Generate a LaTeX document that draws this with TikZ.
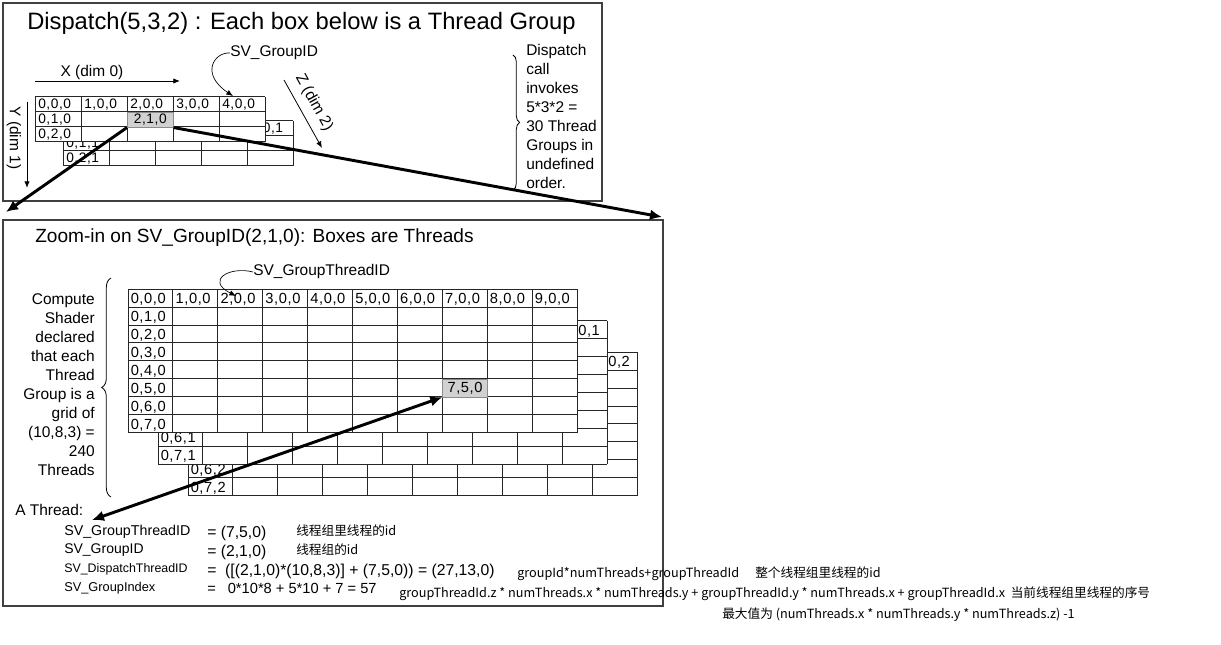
\documentclass[tikz,border=0pt]{standalone}
\usepackage{fontspec}
\setmainfont{Liberation Sans}
\newfontfamily\cjk{Noto Sans CJK SC}
\newfontfamily\cellfont[LetterSpace=4]{Liberation Sans}
\usetikzlibrary{arrows.meta, positioning, decorations.pathreplacing}

\tikzset{
  panel/.style={draw=black!75, line width=0.8pt},
  cellline/.style={draw=black!85, line width=0.75pt},
  txt/.style={inner sep=0pt, font=\fontsize{11.6}{14.25}\selectfont},
  cellS/.style={inner sep=0pt, anchor=base west, font=\fontsize{10.3}{12}\cellfont},
  cellL/.style={inner sep=0pt, anchor=base west, font=\fontsize{11}{14}\cellfont},
  graycell/.style={draw=black!45, fill=black!18, inner sep=0pt, anchor=north west},
  dimarrow/.style={-{Latex[length=5pt, width=4pt]}, line width=0.6pt},
  bigarrow/.style={line width=2.2pt, -{Latex[length=9pt, width=8pt]}},
  bothway/.style={line width=2.2pt, {Latex[length=9pt, width=8pt]}-{Latex[length=9pt, width=8pt]}},
  callout/.style={-{Latex[length=5pt, width=4pt]}, line width=0.5pt},
  curly/.style={decorate, decoration={brace, amplitude=#1}, line width=0.6pt},
  svname/.style={inner sep=0pt, anchor=base west},
  eqtxt/.style={inner sep=0pt, anchor=base west, font=\fontsize{11.8}{14}\selectfont},
  cjktxt/.style={inner sep=0pt, anchor=base west, font=\fontsize{9.5}{12}\cjk},
}

\begin{document}
\begin{tikzpicture}[x=0.75pt, y=-0.75pt]
\useasboundingbox (0,0) rectangle (1221,645);

% top panel: the dispatch
\draw[panel] (3,3) rectangle (602,201);
\node[txt, anchor=base west, font=\fontsize{17.8}{20}\selectfont] (dispTitle) at (27,30) {Dispatch(5,3,2) : Each box below is a Thread Group};

% axes
\coordinate (xFrom) at (35,81);
\coordinate (xTo) at (180,81);
\draw[dimarrow] (xFrom) -- (xTo);
\node[txt, anchor=base] (xLbl) at (92,77) {X (dim 0)};
\coordinate (yFrom) at (27,102);
\coordinate (yTo) at (27,188);
\draw[dimarrow] (yFrom) -- (yTo);
\node[txt, rotate=-90] (yLbl) at (14,138) {Y (dim 1)};
\coordinate (zFrom) at (284,80);
\coordinate (zTo) at (322,148);
\draw[dimarrow] (zFrom) -- (zTo);
\node[txt, rotate=-61] (zLbl) at (314,103) {Z (dim 2)};

% thread groups, back layer first
\foreach \z/\ox/\oy in {1/63/121, 0/35/97} {
  \fill[white] (\ox,\oy) rectangle ++(230,45);
  \foreach \c in {0,...,5} \draw[cellline] (\ox+46*\c,\oy) -- ++(0,45);
  \foreach \r in {0,...,3} \draw[cellline] (\ox,\oy+15*\r) -- ++(230,0);
  \foreach \c in {0,...,4} \node[cellS] at (\ox+46*\c+3,\oy+11.3) {\c,0,\z};
  \foreach \r in {1,2} \node[cellS] at (\ox+3,\oy+15*\r+11.3) {0,\r,\z};
}
\node[graycell, minimum width=34.5pt, minimum height=11.25pt, font=\fontsize{10.3}{12}\cellfont] (g210) at (127,112) {2,1,0};

\node[txt, anchor=west] (gidLbl) at (230,53) {SV\_GroupID};
\draw[callout] (gidLbl.west) .. controls (214,52) and (200,74) .. (233,96);

\draw[curly=5pt] (513,55) -- (513,190);
\node[txt, anchor=north west, align=left] (dispNote) at (526,44) {Dispatch\\call\\invokes\\5*3*2 =\\30 Thread\\Groups in\\undefined\\order.};

% lower panel: one thread group
\draw[panel] (3,220) rectangle (663,606);
\node[txt, anchor=base west, font=\fontsize{14.3}{17}\selectfont] (zoomTitle) at (35,243) {Zoom-in on SV\_GroupID(2,1,0): Boxes are Threads};

\foreach \z/\ox/\oy in {2/188/352.3, 1/158/320.8, 0/128/289.3} {
  \fill[white] (\ox,\oy) rectangle ++(449,143.2);
  \foreach \c in {0,...,10} \draw[cellline] (\ox+44.9*\c,\oy) -- ++(0,143.2);
  \foreach \r in {0,...,8} \draw[cellline] (\ox,\oy+17.9*\r) -- ++(449,0);
  \foreach \c in {0,...,9} \node[cellL] at (\ox+44.9*\c+2.5,\oy+14.5) {\c,0,\z};
  \foreach \r in {1,...,7} \node[cellL] at (\ox+2.5,\oy+17.9*\r+14.5) {0,\r,\z};
}
\node[graycell, minimum width=33.7pt, minimum height=13.4pt, font=\fontsize{11}{14}\cellfont] (g750) at (442.3,378.8) {7,5,0};

\node[txt, anchor=west] (gtidLbl) at (253,272) {SV\_GroupThreadID};
\draw[callout] (gtidLbl.west) .. controls (230,266) and (205,280) .. (236,296);

\draw[curly=7pt] (111,497) -- (111,278);
\node[txt, anchor=north east, align=right] (csNote) at (95,293.5) {Compute\\Shader\\declared\\that each\\Thread\\Group is a\\grid of\\(10,8,3) =\\240\\Threads};

% one thread
\node[txt, anchor=base west] (aThread) at (15,515) {A Thread:};
\node[svname, font=\fontsize{10.7}{12}\selectfont] (sv1) at (64,535) {SV\_GroupThreadID};
\node[svname, font=\fontsize{10.5}{12}\selectfont] (sv2) at (64,553) {SV\_GroupID};
\node[svname, font=\fontsize{9.3}{12}\selectfont] (sv3) at (64,572) {SV\_DispatchThreadID};
\node[svname, font=\fontsize{9.6}{12}\selectfont] (sv4) at (64,591) {SV\_GroupIndex};
\node[eqtxt] (v1) at (207,537) {= (7,5,0)};
\node[eqtxt] (v2) at (207,556) {= (2,1,0)};
\node[eqtxt] (v3) at (207,575) {=\ \ ([(2,1,0)*(10,8,3)] + (7,5,0)) = (27,13,0)};
\node[eqtxt, font=\fontsize{11}{14}\selectfont] (v4) at (207,593) {=\hspace{9pt}0*10*8 + 5*10 + 7 = 57};
\node[cjktxt] (c1) at (296,535) {线程组里线程的id};
\node[cjktxt] (c2) at (296,554) {线程组的id};
\node[cjktxt] (f1) at (517,577) {groupId*numThreads+groupThreadId};
\node[cjktxt] (f1note) at (755,577) {整个线程组里线程的id};
\node[cjktxt] (f2) at (399,597) {groupThreadId.z * numThreads.x * numThreads.y + groupThreadId.y * numThreads.x + groupThreadId.x\ \ 当前线程组里线程的序号};
\node[cjktxt] (f3) at (722,618) {最大值为 (numThreads.x * numThreads.y * numThreads.z) -1};

% zoom arrows
\coordinate (zoomNW) at (6,212);
\coordinate (zoomNE) at (662,217);
\coordinate (threadPt) at (92,520);
\draw[bigarrow] (g210.south west) -- (zoomNW);
\draw[bigarrow] (g210.south east) -- (zoomNE);
\draw[bothway] (g750.south west) -- (threadPt);
\end{tikzpicture}
\end{document}
